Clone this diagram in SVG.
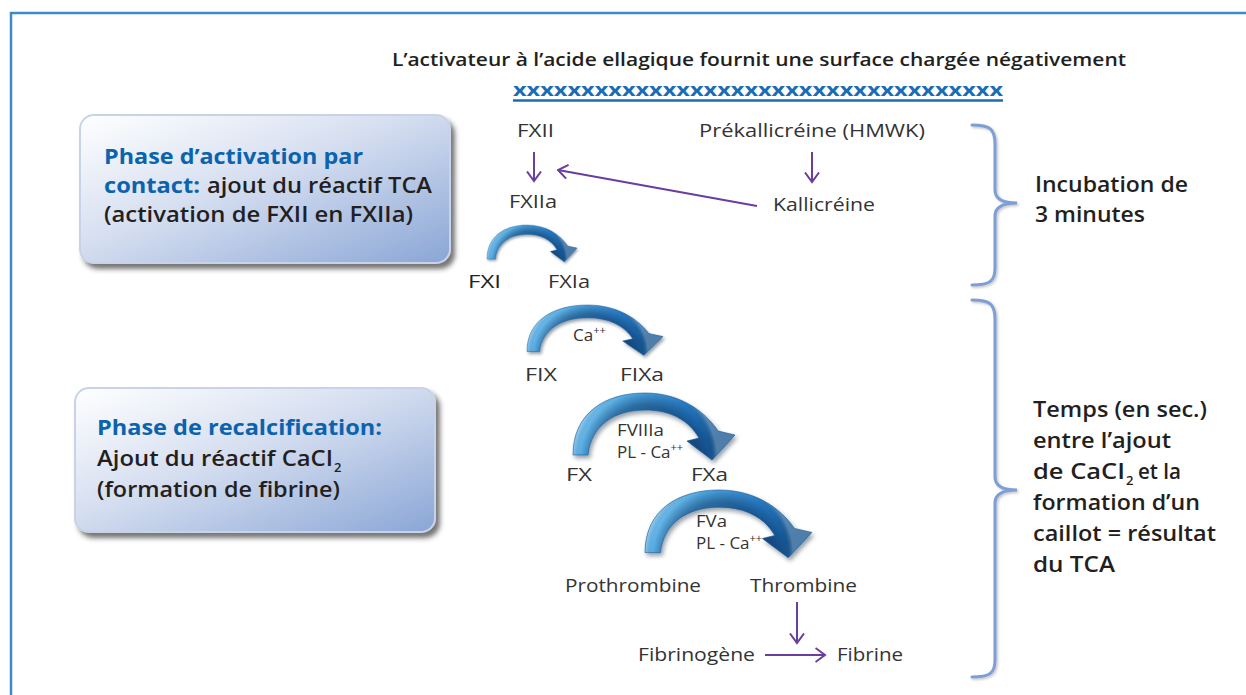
<svg xmlns="http://www.w3.org/2000/svg" xmlns:xlink="http://www.w3.org/1999/xlink" width="1246" height="695" viewBox="0 0 1246 695">
  <defs>
    <style>
      .t { font-family: "Open Sans", "Noto Sans", "DejaVu Sans", sans-serif; fill: #231f20; }
      .lbl { font-size: 19px; font-weight: 400; fill: #333; }
      .sm { font-size: 17px; font-weight: 400; fill: #333; }
      .sup { font-size: 11px; }
      .semi { font-weight: 600; }
      .head { font-size: 21px; font-weight: 700; fill: #0b63ae; }
      .body { font-size: 21px; font-weight: 600; }
      .side { font-size: 21px; font-weight: 600; }
      .sub { font-size: 13px; font-weight: 600; }
      .flow { fill: none; stroke: #6a3d9e; stroke-width: 2; }
      .brace { fill: none; stroke: #7e9fd6; stroke-width: 3; stroke-linecap: round; }
      .box { stroke: #c9d3e8; stroke-width: 2; }
    </style>
    <linearGradient id="boxFill" x1="0" y1="0" x2="1" y2="1">
      <stop offset="0" stop-color="#ffffff"/>
      <stop offset="0.45" stop-color="#d5def0"/>
      <stop offset="1" stop-color="#8aa6d6"/>
    </linearGradient>
    <linearGradient id="arcFill" x1="0" y1="0" x2="1" y2="0.3">
      <stop offset="0" stop-color="#8fd0f4"/>
      <stop offset="0.35" stop-color="#4ea6e0"/>
      <stop offset="0.7" stop-color="#2475bd"/>
      <stop offset="1" stop-color="#15538f"/>
    </linearGradient>
    <radialGradient id="arcShade" gradientUnits="userSpaceOnUse" cx="72" cy="64" r="72">
      <stop offset="0" stop-color="#0a2f5c" stop-opacity="0.9"/>
      <stop offset="0.72" stop-color="#0a2f5c" stop-opacity="0.45"/>
      <stop offset="0.9" stop-color="#0a2f5c" stop-opacity="0"/>
      <stop offset="1" stop-color="#ffffff" stop-opacity="0.25"/>
    </radialGradient>
    <filter id="boxShadow" x="-10%" y="-10%" width="125%" height="130%">
      <feDropShadow dx="4" dy="5" stdDeviation="2.5" flood-color="#2a2a2a" flood-opacity="0.65"/>
    </filter>
    <filter id="arcShadow" x="-10%" y="-10%" width="130%" height="140%">
      <feDropShadow dx="2" dy="3" stdDeviation="2" flood-color="#1a2a40" flood-opacity="0.45"/>
    </filter>
    <filter id="soft" x="-5%" y="-5%" width="110%" height="110%">
      <feDropShadow dx="1.5" dy="1.5" stdDeviation="1" flood-color="#555" flood-opacity="0.35"/>
    </filter>
    <marker id="chev" viewBox="0 0 12 16" refX="10.5" refY="8" markerWidth="12" markerHeight="16" markerUnits="userSpaceOnUse" orient="auto">
      <path d="M1,1 L10.5,8 L1,15" fill="none" stroke="#6a3d9e" stroke-width="2"/>
    </marker>
    <!-- curved 3D activation arrow, drawn at 162 x 67 -->
    <g id="arcArrow">
      <path d="M0,62 C0,20 32,0 72,0 C106,0 131,17 145,38 L162,42 L139,67 L114,48 L126,45 C116,27 97,17 72,17 C42,17 18,32 15,62 Z" fill="url(#arcFill)"/>
      <path d="M0,62 C0,20 32,0 72,0 C106,0 131,17 145,38 L162,42 L139,67 L114,48 L126,45 C116,27 97,17 72,17 C42,17 18,32 15,62 Z" fill="url(#arcShade)" stroke="#1b5a96" stroke-width="0.6"/>
    </g>
  </defs>

  <!-- frame -->
  <path d="M11,695 L11,13 L1246,13" fill="none" stroke="#3a8ad0" stroke-width="2.5"/>

  <!-- title -->
  <g id="title">
    <text class="t semi" x="392" y="66" font-size="18.5" textLength="734" lengthAdjust="spacingAndGlyphs">L’activateur à l’acide ellagique fournit une surface chargée négativement</text>
    <text class="t" x="513" y="96" font-size="18" font-weight="700" style="fill:#1a6db5" textLength="490" lengthAdjust="spacingAndGlyphs">xxxxxxxxxxxxxxxxxxxxxxxxxxxxxxxxxxxx</text>
    <line x1="513" y1="100.5" x2="1003" y2="100.5" stroke="#1a6db5" stroke-width="2.6"/>
  </g>

  <!-- phase boxes -->
  <g id="box-contact">
    <rect class="box" x="80" y="115" width="370" height="148" rx="14" fill="url(#boxFill)" filter="url(#boxShadow)"/>
    <text class="t head" x="104" y="164" textLength="259" lengthAdjust="spacingAndGlyphs">Phase d’activation par</text>
    <text class="t head" x="104" y="193" textLength="96" lengthAdjust="spacingAndGlyphs">contact:</text>
    <text class="t body" x="207" y="193" textLength="225" lengthAdjust="spacingAndGlyphs">ajout du réactif TCA</text>
    <text class="t body" x="104" y="222" textLength="309" lengthAdjust="spacingAndGlyphs">(activation de FXII en FXIIa)</text>
  </g>

  <g id="box-recalc">
    <rect class="box" x="75" y="388" width="360" height="144" rx="14" fill="url(#boxFill)" filter="url(#boxShadow)"/>
    <text class="t head" x="97" y="435" textLength="285" lengthAdjust="spacingAndGlyphs">Phase de recalcification:</text>
    <text class="t body" x="97" y="466" textLength="236" lengthAdjust="spacingAndGlyphs">Ajout du réactif CaCI</text>
    <text class="t sub" x="334" y="472">2</text>
    <text class="t body" x="97" y="497" textLength="243" lengthAdjust="spacingAndGlyphs">(formation de fibrine)</text>
  </g>

  <!-- separator between the two phases -->
  <line x1="92" y1="293.5" x2="1070" y2="293.5" stroke="#7b9bd0" stroke-width="2.5" filter="url(#soft)"/>

  <!-- braces and timing notes -->
  <g id="incubation">
    <path class="brace" filter="url(#soft)" d="M972,125 C990,125 995,129 995,144 L995,190 C995,199 1002,203 1017,203 C1002,203 995,207 995,216 L995,268 C995,281 990,285 972,285"/>
    <text class="t side" x="1035" y="192" textLength="153" lengthAdjust="spacingAndGlyphs">Incubation de</text>
    <text class="t side" x="1035" y="222" textLength="110" lengthAdjust="spacingAndGlyphs">3 minutes</text>
  </g>

  <g id="tca-time">
    <path class="brace" filter="url(#soft)" d="M972,300 C990,300 995,304 995,319 L995,477 C995,486 1002,490 1017,490 C1002,490 995,494 995,503 L995,660 C995,673 990,677 972,677"/>
    <text class="t side" x="1033" y="417" textLength="174" lengthAdjust="spacingAndGlyphs">Temps (en sec.)</text>
    <text class="t side" x="1033" y="448" textLength="138" lengthAdjust="spacingAndGlyphs">entre l’ajout</text>
    <text class="t side" x="1033" y="479" textLength="92" lengthAdjust="spacingAndGlyphs">de CaCI</text>
    <text class="t sub" x="1126" y="485">2</text>
    <text class="t side" x="1138" y="479" textLength="43" lengthAdjust="spacingAndGlyphs">et la</text>
    <text class="t side" x="1033" y="510" textLength="167" lengthAdjust="spacingAndGlyphs">formation d’un</text>
    <text class="t side" x="1033" y="541" textLength="183" lengthAdjust="spacingAndGlyphs">caillot = résultat</text>
    <text class="t side" x="1033" y="572" textLength="82" lengthAdjust="spacingAndGlyphs">du TCA</text>
  </g>

  <!-- contact activation nodes -->
  <g id="n-fxii"><text class="t lbl" x="517" y="137" textLength="37" lengthAdjust="spacingAndGlyphs">FXII</text></g>
  <g id="n-fxiia"><text class="t lbl" x="509" y="208" textLength="48" lengthAdjust="spacingAndGlyphs">FXIIa</text></g>
  <g id="n-prekal"><text class="t lbl" x="699" y="137" textLength="226" lengthAdjust="spacingAndGlyphs">Prékallicréine (HMWK)</text></g>
  <g id="n-kal"><text class="t lbl" x="773" y="211" textLength="102" lengthAdjust="spacingAndGlyphs">Kallicréine</text></g>
  <g id="n-fxi"><text class="t lbl" x="468" y="288" font-weight="600" style="fill:#222" textLength="33" lengthAdjust="spacingAndGlyphs">FXI</text></g>
  <g id="n-fxia"><text class="t lbl" x="548" y="288" textLength="42" lengthAdjust="spacingAndGlyphs">FXIa</text></g>

  <!-- recalcification nodes -->
  <g id="n-fix"><text class="t lbl" x="525" y="381" textLength="32" lengthAdjust="spacingAndGlyphs">FIX</text></g>
  <g id="n-fixa"><text class="t lbl" x="620" y="381" textLength="44" lengthAdjust="spacingAndGlyphs">FIXa</text></g>
  <g id="n-fx"><text class="t lbl" x="566" y="481" textLength="26" lengthAdjust="spacingAndGlyphs">FX</text></g>
  <g id="n-fxa"><text class="t lbl" x="691" y="481" textLength="37" lengthAdjust="spacingAndGlyphs">FXa</text></g>
  <g id="n-prothrombine"><text class="t lbl" x="565" y="592" textLength="136" lengthAdjust="spacingAndGlyphs">Prothrombine</text></g>
  <g id="n-thrombine"><text class="t lbl" x="750" y="592" textLength="107" lengthAdjust="spacingAndGlyphs">Thrombine</text></g>
  <g id="n-fibrinogene"><text class="t lbl" x="638" y="661" textLength="117" lengthAdjust="spacingAndGlyphs">Fibrinogène</text></g>
  <g id="n-fibrine"><text class="t lbl" x="837" y="661" textLength="66" lengthAdjust="spacingAndGlyphs">Fibrine</text></g>

  <!-- cofactor labels on the arcs -->
  <g id="cofactors">
    <text class="t sm" x="573" y="341">Ca<tspan class="sup" dy="-7">++</tspan></text>
    <text class="t sm" x="617" y="436" textLength="47" lengthAdjust="spacingAndGlyphs">FVIIIa</text>
    <text class="t sm" x="617" y="458">PL - Ca<tspan class="sup" dy="-7">++</tspan></text>
    <text class="t sm" x="696" y="527" textLength="31" lengthAdjust="spacingAndGlyphs">FVa</text>
    <text class="t sm" x="696" y="549">PL - Ca<tspan class="sup" dy="-7">++</tspan></text>
  </g>

  <!-- connectors -->
  <g id="connectors">
    <line class="flow" x1="534" y1="152" x2="534" y2="181" marker-end="url(#chev)"/>
    <line class="flow" x1="812" y1="152" x2="812" y2="182" marker-end="url(#chev)"/>
    <line class="flow" x1="757" y1="206" x2="558" y2="170" marker-end="url(#chev)"/>
    <line class="flow" x1="797" y1="602" x2="797" y2="643" marker-end="url(#chev)"/>
    <line class="flow" x1="765" y1="655" x2="825" y2="655" marker-end="url(#chev)"/>

    <use xlink:href="#arcArrow" filter="url(#arcShadow)" transform="translate(487,225) scale(0.556,0.55)"/>
    <use xlink:href="#arcArrow" filter="url(#arcShadow)" transform="translate(527,305) scale(0.84,0.75)"/>
    <use xlink:href="#arcArrow" filter="url(#arcShadow)" transform="translate(573,393)"/>
    <use xlink:href="#arcArrow" filter="url(#arcShadow)" transform="translate(645,490) scale(1.03,1.01)"/>
  </g>
</svg>
